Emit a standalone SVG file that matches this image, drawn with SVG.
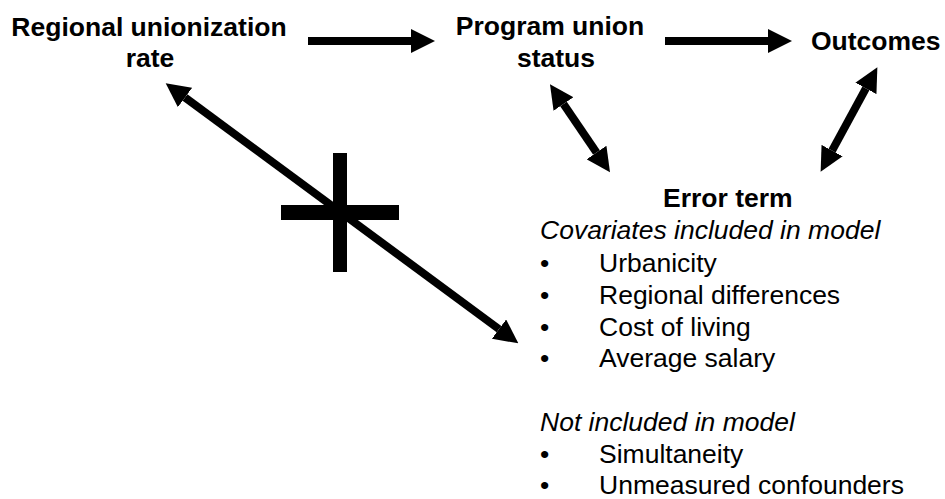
<svg xmlns="http://www.w3.org/2000/svg" width="945" height="499" viewBox="0 0 945 499">
<style>
.b{font-family:"Liberation Sans",Arial,sans-serif;font-weight:bold;font-size:26.5px;fill:#000}
.r{font-family:"Liberation Sans",Arial,sans-serif;font-size:26.5px;fill:#000}
.i{font-family:"Liberation Sans",Arial,sans-serif;font-style:italic;font-size:26.5px;fill:#000}
.c{text-anchor:middle}
.ln{stroke:#000;stroke-width:8;fill:none}
.s{marker-end:url(#ah)}
.d{marker-start:url(#ah);marker-end:url(#ah)}
</style>
<defs>
<marker id="ah" markerUnits="userSpaceOnUse" markerWidth="24" markerHeight="24" refX="0" refY="12" orient="auto-start-reverse" viewBox="0 0 24 24">
<path d="M0,0 L24,12 L0,24 z" fill="#000"/>
</marker>
</defs>
<g id="regional">
<text class="b c" x="149" y="36">Regional unionization</text>
<text class="b c" x="150" y="67">rate</text>
</g>
<g id="program">
<text class="b c" x="550" y="35">Program union</text>
<text class="b c" x="556" y="67">status</text>
</g>
<g id="outcomes">
<text class="b" x="811" y="50">Outcomes</text>
</g>
<g id="error">
<text class="b" x="663" y="207">Error term</text>
<text class="i" x="540" y="239">Covariates included in model</text>
<text class="r" x="540" y="272">•</text><text class="r" x="599" y="272">Urbanicity</text>
<text class="r" x="540" y="303.5">•</text><text class="r" x="599" y="303.5">Regional differences</text>
<text class="r" x="540" y="335.5">•</text><text class="r" x="599" y="335.5">Cost of living</text>
<text class="r" x="540" y="367">•</text><text class="r" x="599" y="367">Average salary</text>
<text class="i" x="540" y="430.5">Not included in model</text>
<text class="r" x="540" y="463">•</text><text class="r" x="599" y="463">Simultaneity</text>
<text class="r" x="540" y="494">•</text><text class="r" x="599" y="494">Unmeasured confounders</text>
</g>
<g id="connectors">
<path class="ln s" d="M308,41 L411,41"/>
<path class="ln s" d="M665,41 L768,41"/>
<path class="ln d" d="M185,97.5 L499,329.1"/>
<path class="ln d" d="M563.5,104.1 L596.5,152.5"/>
<path class="ln d" d="M865.9,88.4 L832.1,150.6"/>
</g>
<g id="cross">
<rect x="333" y="153" width="14" height="119" fill="#000"/>
<rect x="281" y="205" width="118" height="15" fill="#000"/>
</g>
</svg>
